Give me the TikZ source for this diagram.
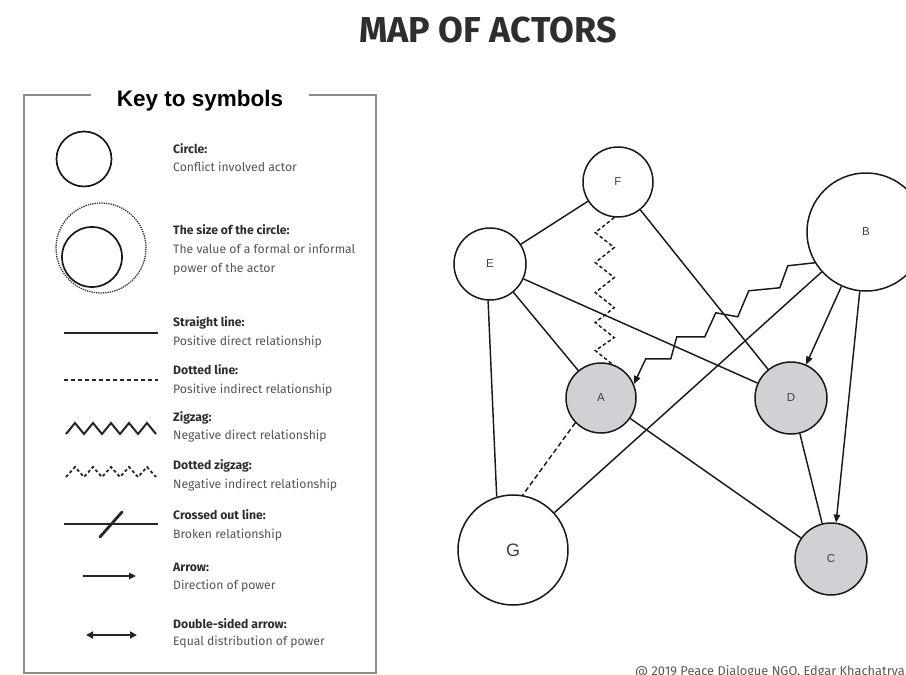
\documentclass[tikz,border=0pt]{standalone}
\usepackage{fontspec}
\setmainfont{Fira Sans}
\newfontfamily\keyfont{Liberation Sans}
\usetikzlibrary{arrows.meta}
\definecolor{actorgray}{RGB}{209,209,213}
\definecolor{boxgray}{RGB}{140,140,140}
\definecolor{txtdark}{RGB}{45,45,45}
\definecolor{txtgray}{RGB}{85,85,85}
\begin{document}
\begin{tikzpicture}[x=1pt,y=-1pt,
 actor/.style={circle,draw=black!90,line width=1.5pt,inner sep=0pt,font=\keyfont\fontsize{11.5}{13}\selectfont,text=black!75},
 filled/.style={fill=actorgray},
 rel/.style={line width=1.45pt,draw=black!90},
 legtitle/.style={anchor=base west,inner sep=0pt,font=\fontsize{12.2}{14}\selectfont\bfseries,text=txtdark},
 legtext/.style={anchor=base west,inner sep=0pt,font=\fontsize{12.2}{14}\selectfont,text=txtgray},
 tip/.style={-{Triangle[length=8pt,width=6.5pt]}},
 legline/.style={line width=2pt,draw=black!85},
 dzig/.style={dash pattern=on 3.5pt off 2.5pt},
]
\useasboundingbox (0,0) rectangle (906,675);
\fill[white] (0,0) rectangle (906,675);

% title
\node[font=\fontsize{36}{40}\selectfont\bfseries,text=black!82] (title) at (488,30) {MAP OF ACTORS};

% key box
\draw[boxgray,line width=1.6pt] (91,95) -- (24,95) -- (24,673) -- (376,673) -- (376,95) -- (309,95);
\node[anchor=base,inner sep=0pt,font=\keyfont\fontsize{22.5}{26}\selectfont\bfseries,text=black] (keytitle) at (200,106) {Key to symbols};

% legend symbols
\node[circle,draw=black!90,line width=1.7pt,minimum size=55pt,inner sep=0pt] (lc1) at (84,159) {};
\node[circle,draw=black!80,densely dotted,line width=1.3pt,minimum size=90pt,inner sep=0pt] (lc2o) at (101,248) {};
\node[circle,draw=black!90,line width=1.7pt,minimum size=60pt,inner sep=0pt] (lc2i) at (92,257) {};

\coordinate (s1) at (64,333); \coordinate (s2) at (158,333);
\draw[legline] (s1) -- (s2);
\coordinate (d1) at (64,380); \coordinate (d2) at (158,380);
\draw[legline,line width=1.6pt,dash pattern=on 4pt off 3pt] (d1) -- (d2);
\coordinate (z1) at (66,434);
\draw[legline,line join=miter] (z1) -- ++(9,-11) -- ++(9,11) -- ++(9,-11) -- ++(9,11) -- ++(9,-11) -- ++(9,11) -- ++(9,-11) -- ++(9,11) -- ++(9,-11) -- ++(9,11);
\coordinate (dz1) at (66,477);
\draw[legline,line width=1.8pt,dash pattern=on 3pt off 2.5pt] (dz1) -- ++(9,-10) -- ++(9,10) -- ++(9,-10) -- ++(9,10) -- ++(9,-10) -- ++(9,10) -- ++(9,-10) -- ++(9,10) -- ++(9,-10) -- ++(9,10);
\coordinate (c1) at (64,524); \coordinate (c2) at (158,524);
\draw[legline] (c1) -- (c2);
\coordinate (x1) at (100,537); \coordinate (x2) at (122,512);
\draw[legline,line width=2.8pt,line cap=round] (x1) -- (x2);
\coordinate (a1) at (83,576); \coordinate (a2) at (136,576);
\draw[legline,line width=1.6pt,-{Triangle[length=7pt,width=6.5pt]}] (a1) -- (a2);
\coordinate (b1) at (86,635); \coordinate (b2) at (137,635);
\draw[legline,line width=2pt,{Triangle[length=7pt,width=7pt]}-{Triangle[length=7pt,width=7pt]}] (b1) -- (b2);

% legend texts
\node[legtitle] (t1) at (173,153) {Circle:};
\node[legtext] (t1a) at (173,171) {Conflict involved actor};
\node[legtitle] (t2) at (173,234) {The size of the circle:};
\node[legtext] (t2a) at (173,253) {The value of a formal or informal};
\node[legtext] (t2b) at (173,272) {power of the actor};
\node[legtitle] (t3) at (173,326) {Straight line:};
\node[legtext] (t3a) at (173,345) {Positive direct relationship};
\node[legtitle] (t4) at (173,374) {Dotted line:};
\node[legtext] (t4a) at (173,393) {Positive indirect relationship};
\node[legtitle] (t5) at (173,421) {Zigzag:};
\node[legtext] (t5a) at (173,439) {Negative direct relationship};
\node[legtitle] (t6) at (173,469) {Dotted zigzag:};
\node[legtext] (t6a) at (173,488) {Negative indirect relationship};
\node[legtitle] (t7) at (173,519) {Crossed out line:};
\node[legtext] (t7a) at (173,538) {Broken relationship};
\node[legtitle] (t8) at (173,571) {Arrow:};
\node[legtext] (t8a) at (173,589) {Direction of power};
\node[legtitle] (t9) at (173,628) {Double-sided arrow:};
\node[legtext] (t9a) at (173,645) {Equal distribution of power};

% actors
\node[actor,minimum size=70pt] (F) at (618,182) {F};
\node[actor,minimum size=72pt] (E) at (490,264) {E};
\node[actor,minimum size=118pt] (B) at (866,232) {B};
\node[actor,filled,minimum size=70pt] (A) at (601,398) {A};
\node[actor,filled,minimum size=72pt] (D) at (791,398) {D};
\node[actor,minimum size=110pt,font=\keyfont\fontsize{18}{20}\selectfont] (G) at (513,550) {G};
\node[actor,filled,minimum size=72pt] (C) at (831,559) {C};

% relations
\draw[rel] (F) -- (E);
\draw[rel] (F) -- (D);
\draw[rel] (E) -- (A);
\draw[rel] (E) -- (D);
\draw[rel] (E.267) -- (G.107);
\draw[rel] (B) -- (G);
\draw[rel,tip] (B) -- (D);
\draw[rel,tip] (B.264) -- (C.82);
\draw[rel,dash pattern=on 5pt off 3pt] (A.224) -- (G.80);
\draw[rel] (A) -- (C);
\draw[rel] (D) -- (C);
\draw[rel,dzig] (F.264) -- ++(-19,15) -- ++(19,15) -- ++(-19,15) -- ++(19,15) -- ++(-19,15) -- ++(19,15) -- ++(-19,15) -- ++(19,15) -- ++(-19,13) -- (A.72);
\draw[rel,tip,line join=miter] (B.211) -- ++(-27,3) -- ++(-8,22) -- ++(-31,3) -- ++(-11,26) -- ++(-22,-4) -- ++(-11,24) -- ++(-28,0) -- ++(-6,22) -- ++(-25,0) -- (A.23);

% credit
\node[anchor=base west,inner sep=0pt,font=\fontsize{12.8}{14}\selectfont,text=black!65] (credit) at (635,675) {@ 2019 Peace Dialogue NGO, Edgar Khachatryan};
\end{tikzpicture}
\end{document}
